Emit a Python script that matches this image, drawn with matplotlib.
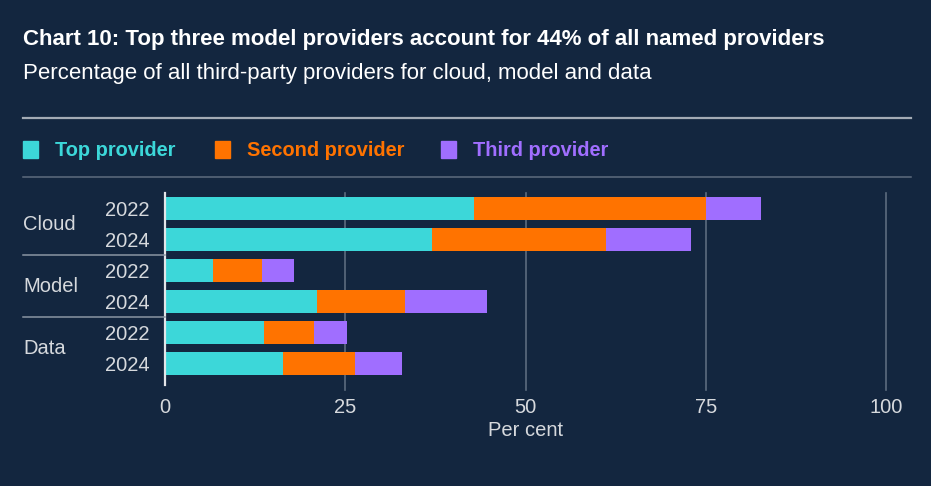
import matplotlib
matplotlib.use("Agg")
import matplotlib.pyplot as plt
import matplotlib.transforms as mtransforms
from matplotlib.patches import Rectangle
import numpy as np

plt.rcParams['font.family'] = ['Liberation Sans', 'DejaVu Sans']

# data
groups = ['Cloud', 'Model', 'Data']
years = ['2022', '2024']
top = [42.9, 37.1, 6.6, 21.1, 13.7, 16.4]
second = [32.2, 24.1, 6.8, 12.2, 6.9, 9.9]
third = [7.6, 11.7, 4.5, 11.4, 4.6, 6.6]
series_names = ['Top provider', 'Second provider', 'Third provider']
xticks = [0, 25, 50, 75, 100]

BG = '#13263F'
CYAN = '#3CD7D9'
ORANGE = '#FF7300'
PURPLE = '#A06EFF'
GRID = '#5C6B7E'
TXT = '#D6D9DD'
colors = [CYAN, ORANGE, PURPLE]

W, H = 931, 486
fig = plt.figure(figsize=(W / 100, H / 100), dpi=100, facecolor=BG)

def fx(px):
    return px / W

def fy(py):
    return 1 - py / H

# header
fig.text(fx(23), fy(40), 'Chart 10: Top three model providers account for 44% of all named providers',
         color='white', fontsize=16, fontweight='bold', va='center', ha='left')
fig.text(fx(23), fy(74), 'Percentage of all third-party providers for cloud, model and data',
         color='white', fontsize=16, va='center', ha='left')

fig.add_artist(plt.Line2D([fx(23), fx(911)], [fy(118), fy(118)], color='#A3ABB5', lw=1.6))
fig.add_artist(plt.Line2D([fx(23), fx(911)], [fy(177), fy(177)], color='#5E6C7E', lw=1.1))

# legend
leg_sq = [23, 215, 441]
leg_tx = [55, 247, 473]
for name, c, sx, tx in zip(series_names, colors, leg_sq, leg_tx):
    fig.add_artist(Rectangle((fx(sx), fy(158)), fx(15), 17 / H, color=c, transform=fig.transFigure))
    fig.text(fx(tx), fy(150), name, color=c, fontsize=14.4, fontweight='bold', va='center', ha='left')

# axes
ax = fig.add_axes([fx(165), fy(385), fx(886) - fx(165), (385 - 193) / H])
ax.set_facecolor(BG)

y = np.arange(len(top))
left2 = np.array(top)
left3 = left2 + np.array(second)
ax.barh(y, top, height=0.74, color=CYAN, zorder=3)
ax.barh(y, second, left=left2, height=0.74, color=ORANGE, zorder=3)
ax.barh(y, third, left=left3, height=0.74, color=PURPLE, zorder=3)

ax.set_xlim(0, 100)
ax.set_ylim(5.69, -0.5)
ax.set_xticks(xticks)
ax.set_xticklabels([str(t) for t in xticks])
ax.tick_params(axis='x', length=0, pad=9, labelsize=14.5, labelcolor=TXT)
ax.set_yticks(y)
ax.set_yticklabels(years * len(groups))
ax.tick_params(axis='y', length=0, pad=11, labelsize=14.5, labelcolor=TXT)

for t in xticks[1:]:
    ax.plot([t, t], [5.85, -0.5], color=GRID, lw=1.2, zorder=1, clip_on=False)

for s in ['top', 'right', 'bottom']:
    ax.spines[s].set_visible(False)
ax.spines['left'].set_color('#E3E5E8')
ax.spines['left'].set_linewidth(1.6)
ax.spines['left'].set_zorder(4)

ax.set_xlabel('Per cent', color=TXT, fontsize=14.5, labelpad=3)

# group labels and separators
trans = mtransforms.blended_transform_factory(fig.transFigure, ax.transData)
for i, g in enumerate(groups):
    fig.text(fx(23), 2 * i + 0.5, g, transform=trans, color=TXT, fontsize=14.5, va='center', ha='left')
for sep in [1.5, 3.5]:
    fig.add_artist(plt.Line2D([fx(23), fx(165)], [sep, sep], transform=trans, color='#8A95A3', lw=1.1))

fig.savefig('out.png', dpi=100, facecolor=BG)
